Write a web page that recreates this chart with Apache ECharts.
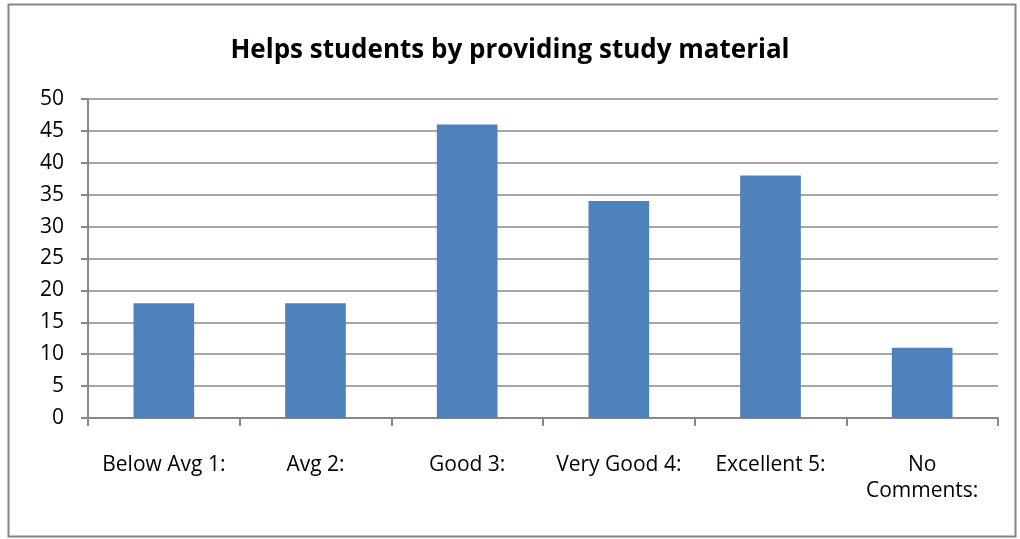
<!DOCTYPE html>
<html><head><meta charset="utf-8">
<script src="https://cdn.jsdelivr.net/npm/echarts@6/dist/echarts.min.js"></script>
<style>html,body{margin:0;padding:0;background:#fff}#c{width:1020px;height:539px}</style>
</head><body><div id="c"></div>
<script>
const categories = ['Below Avg 1:', 'Avg 2:', 'Good 3:', 'Very Good 4:', 'Excellent 5:', 'No\nComments:'];
const values = [18, 18, 46, 34, 38, 11];
const titleText = 'Helps students by providing study material';
const FONT = 'Open Sans';
const chart = echarts.init(document.getElementById('c'));
chart.setOption({
  animation: false,
  title: { text: titleText, left: 'center', top: 33, textStyle: { fontFamily: FONT, fontWeight: 'bold', fontSize: 26, color: '#000' } },
  graphic: [{ type: 'rect', shape: { x: 8.5, y: 4.5, width: 1007, height: 532 }, style: { fill: 'none', stroke: '#868686', lineWidth: 2 }, silent: true }],
  grid: { left: 88, right: 22, top: 99, bottom: 121, containLabel: false },
  xAxis: {
    type: 'category', data: categories,
    axisLine: { lineStyle: { color: '#888', width: 2 } },
    axisTick: { show: true, length: 8, lineStyle: { color: '#888', width: 2 }, alignWithLabel: false },
    axisLabel: { fontFamily: FONT, fontSize: 21, color: '#000', margin: 34, lineHeight: 26, interval: 0 }
  },
  yAxis: {
    type: 'value', min: 0, max: 50, interval: 5,
    axisLine: { show: true, lineStyle: { color: '#888', width: 2 } },
    axisTick: { show: true, length: 7, lineStyle: { color: '#888', width: 2 } },
    splitLine: { lineStyle: { color: '#888', width: 1.5 } },
    axisLabel: { fontFamily: FONT, fontSize: 21, color: '#000', margin: 24 }
  },
  series: [{ type: 'bar', data: values, barWidth: '40%', itemStyle: { color: '#4f81bd' } }]
});
</script></body></html>
